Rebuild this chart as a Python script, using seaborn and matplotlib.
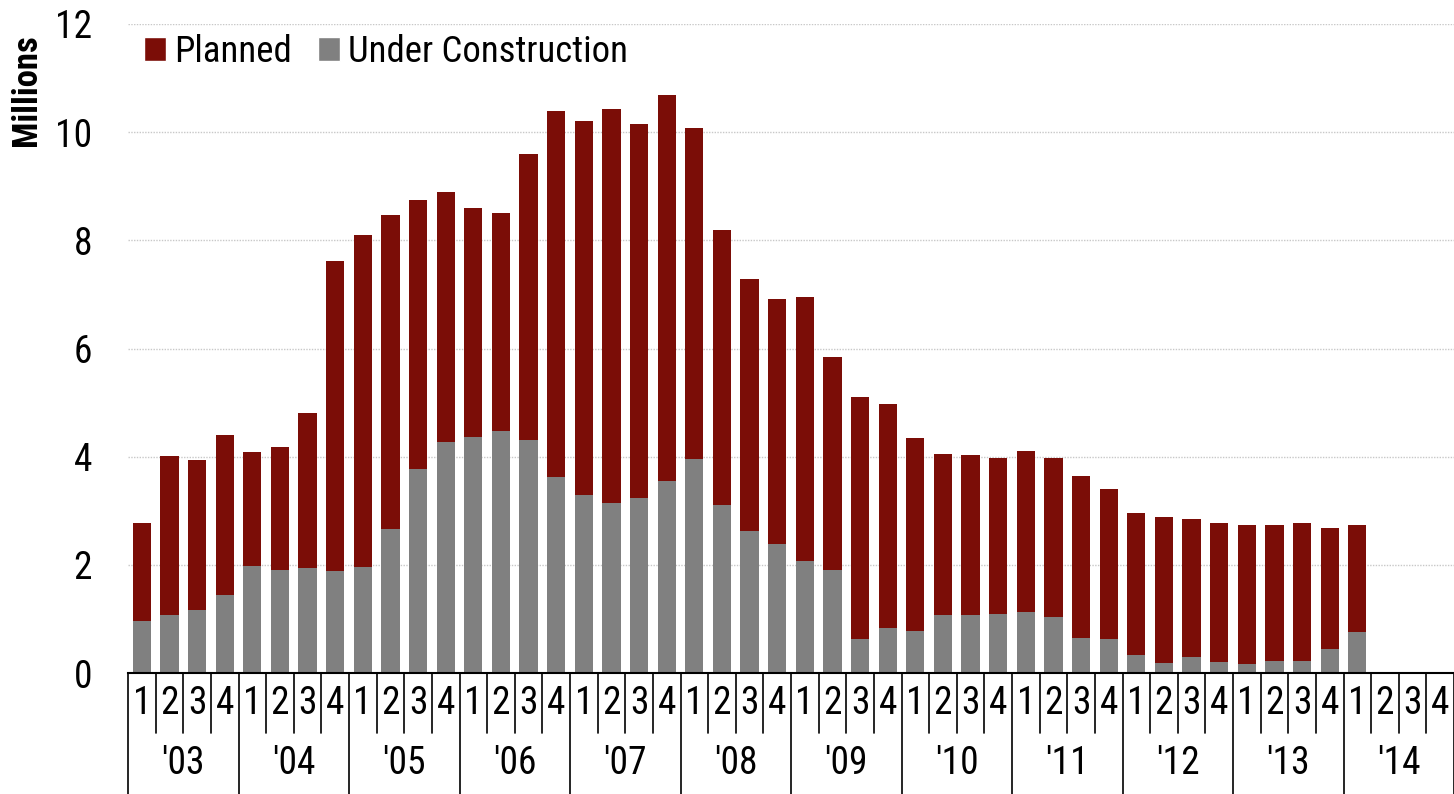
import numpy as np
import pandas as pd
import matplotlib
matplotlib.use("Agg")
import matplotlib.pyplot as plt
import matplotlib.transforms as mtransforms
from matplotlib.patches import Patch
from matplotlib import font_manager
import seaborn as sns

years = ["'03", "'04", "'05", "'06", "'07", "'08", "'09", "'10", "'11", "'12", "'13", "'14"]
quarters = ["1", "2", "3", "4"]

# Total (Planned + Under Construction), millions
total = [2.77, 4.01, 3.94, 4.40,
         4.08, 4.18, 4.81, 7.62,
         8.10, 8.47, 8.75, 8.90,
         8.60, 8.50, 9.60, 10.40,
         10.20, 10.43, 10.15, 10.68,
         10.08, 8.20, 7.28, 6.92,
         6.95, 5.85, 5.10, 4.97,
         4.35, 4.05, 4.03, 3.97,
         4.10, 3.98, 3.65, 3.41,
         2.96, 2.88, 2.85, 2.77,
         2.74, 2.74, 2.78, 2.69,
         2.74]
under_construction = [0.97, 1.08, 1.17, 1.45,
                      1.98, 1.91, 1.95, 1.88,
                      1.96, 2.67, 3.77, 4.27,
                      4.36, 4.47, 4.30, 3.63,
                      3.29, 3.15, 3.23, 3.55,
                      3.96, 3.10, 2.62, 2.39,
                      2.07, 1.90, 0.62, 0.84,
                      0.77, 1.08, 1.07, 1.10,
                      1.13, 1.04, 0.65, 0.63,
                      0.33, 0.19, 0.29, 0.21,
                      0.17, 0.23, 0.22, 0.44,
                      0.75]

maroon = "#7B0D07"
grey = "#808080"

slots = [f"{y}Q{q}" for y in years for q in quarters]
n = len(slots)
df = pd.DataFrame({
    "slot": slots[:len(total)],
    "total": total,
    "uc": under_construction,
})

installed = {f.name for f in font_manager.fontManager.ttflist}
fam = [f for f in ["Roboto Condensed", "Liberation Sans Narrow", "Arial Narrow",
                   "Roboto", "DejaVu Sans"] if f in installed]

sns.set_theme(style="white")
plt.rcParams["font.family"] = fam
for k in ["text.color", "axes.labelcolor", "xtick.color", "ytick.color"]:
    plt.rcParams[k] = "black"

fig = plt.figure(figsize=(14.54, 7.94), dpi=100)
W, H = 1454, 794
ax = fig.add_axes([128 / W, (H - 673) / H, (1454 - 128) / W, (673 - 24) / H])

sns.barplot(data=df, x="slot", y="total", order=slots, color=maroon,
            saturation=1, width=0.66, ax=ax, linewidth=0)
sns.barplot(data=df, x="slot", y="uc", order=slots, color=grey,
            saturation=1, width=0.66, ax=ax, linewidth=0)

ax.set_xlim(-0.5, n - 0.5)
ax.set_ylim(0, 12)
ax.set_yticks([0, 2, 4, 6, 8, 10, 12])
ax.set_yticklabels(["0", "2", "4", "6", "8", "10", "12"])
ax.tick_params(axis="y", length=0, pad=26, labelsize=27)
ax.set_xticks([])
ax.set_xlabel("")
ax.set_ylabel("")
for s in ["top", "right", "left"]:
    ax.spines[s].set_visible(False)
ax.spines["bottom"].set_color("black")
ax.spines["bottom"].set_linewidth(1.5)
ax.yaxis.grid(True, color="#c8c8c8", linestyle=(0, (1, 1)), linewidth=1)
ax.set_axisbelow(True)

# multi-level x axis
trans = mtransforms.blended_transform_factory(ax.transData, ax.transAxes)
ax_h = 673 - 24
q_bot = -(733 - 673) / ax_h
y_bot = -(794 - 673) / ax_h
for i in range(n + 1):
    xb = i - 0.5
    yb = y_bot if i % 4 == 0 else q_bot
    ax.plot([xb, xb], [0, yb], transform=trans, color="black", lw=1.2,
            clip_on=False)
for i, s in enumerate(slots):
    ax.text(i, q_bot / 2, quarters[i % 4], transform=trans, ha="center",
            va="center", fontsize=27)
for j, yr in enumerate(years):
    ax.text(4 * j + 1.5, (q_bot + y_bot) / 2, yr, transform=trans,
            ha="center", va="center", fontsize=27)

fig.text(26 / W, 1 - 90 / H, "Millions", rotation=90, ha="center",
         va="center", fontsize=25, fontweight="bold")

handles = [Patch(facecolor=maroon, label="Planned"),
           Patch(facecolor=grey, label="Under Construction")]
ax.legend(handles=handles, loc="upper left", ncol=2, frameon=False,
          bbox_to_anchor=(16 / 1326, 1 - 10 / ax_h), borderaxespad=0,
          borderpad=0, fontsize=26.5, handlelength=0.6, handleheight=0.6,
          handletextpad=0.22, columnspacing=0.7)

fig.savefig("out.png", dpi=100)
